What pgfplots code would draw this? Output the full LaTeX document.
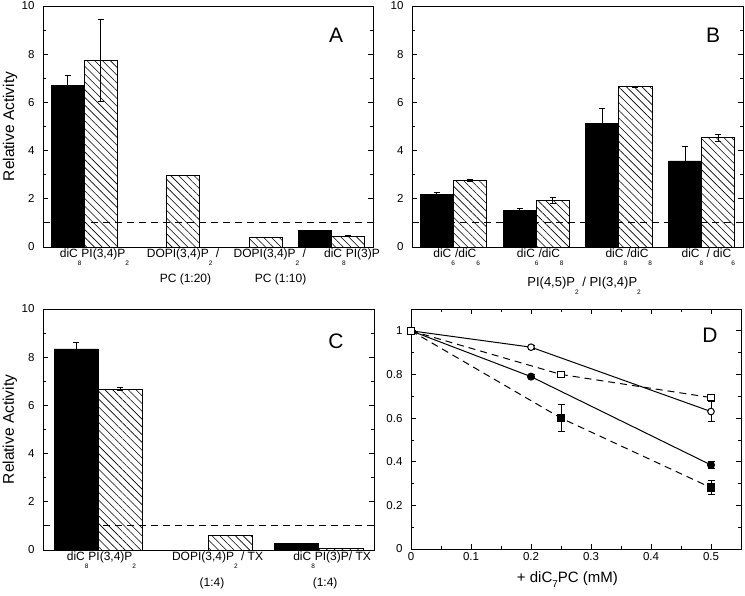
\documentclass[border=0pt]{standalone}
\usepackage{fontspec}
\setmainfont{Liberation Sans}
\usepackage{pgfplots}
\pgfplotsset{compat=1.18}
\usetikzlibrary{patterns.meta}
\newcommand{\lsub}[1]{\raisebox{-8pt}{\fontsize{6.5}{6.5}\selectfont #1}}
\newcommand{\dsub}[1]{\raisebox{-5pt}{\fontsize{10}{10}\selectfont #1}}

\tikzset{letter/.style={font=\fontsize{21}{21}\selectfont}}
\pgfplotsset{
  panel/.style={
    scale only axis,
    axis line style={line width=0.9pt},
    tick style={black, line width=0.8pt},
    tick align=inside,
    major tick length=5pt, minor tick length=3pt,
    /pgf/number format/assume math mode=true,
    yticklabel style={font=\fontsize{11.5}{13}\selectfont, xshift=-5pt},
    label style={font=\fontsize{15.5}{17}\selectfont},
    clip=false,
  },
  barpanel/.style={
    panel,
    ymin=0, ymax=10, ytick={0,2,4,6,8,10}, minor ytick={1,3,5,7,9},
    xtick style={draw=none},
    xticklabel style={font=\fontsize{12}{14}\selectfont, inner sep=0pt, yshift=-2pt},
  },
  blackbar/.style={ybar, bar width=0.4, bar shift=0pt, fill=black, draw=black, line width=0.8pt,
    error bars/.cd, y dir=both, y explicit,
    error bar style={black, line width=0.8pt},
    error mark options={black, rotate=90, mark size=3pt, line width=0.8pt}},
  hatchbar/.style={ybar, bar width=0.4, bar shift=0pt, fill=white, draw=black, line width=0.8pt,
    postaction={pattern={Lines[angle=-45, distance=5.5pt, line width=0.6pt]}},
    error bars/.cd, y dir=both, y explicit,
    error bar style={black, line width=0.8pt},
    error mark options={black, rotate=90, mark size=3pt, line width=0.8pt}},
  refline/.style={black, line width=0.8pt, dash pattern=on 7pt off 5pt},
}

\begin{document}
\begin{tikzpicture}
\path[use as bounding box] (0pt,0pt) rectangle (745pt,596pt);

% Panel A
\begin{axis}[barpanel, at={(43pt,349pt)}, anchor=south west, width=330pt, height=241pt,
  xmin=0, xmax=4,
  xtick={0.624,1.697,2.75,3.745},
  xticklabels={{diC\lsub{8}PI(3,4)P\lsub{2}},{DOPI(3,4)P\lsub{2} /},{DOPI(3,4)P\lsub{2} /},{diC\lsub{8}PI(3)P}},
  extra x ticks={1.727,2.88},
  extra x tick labels={{PC (1:20)},{PC (1:10)}},
  extra x tick style={major tick length=0pt, xticklabel style={yshift=-25pt}},
  ylabel={Relative Activity},
  ylabel style={at={(axis description cs:-0.1,0.5)}, anchor=center, rotate=0},
]
\addplot[blackbar] coordinates {(0.3,6.72) +- (0,0.38) (3.3,0.70) +- (0,0)};
\addplot[hatchbar] coordinates {(0.7,7.75) +- (0,1.7) (1.7,2.97) +- (0,0) (2.7,0.40) +- (0,0) (3.7,0.45) +- (0,0.02)};
\addplot[refline] coordinates {(0,1) (4,1)};
\node[letter] at (rel axis cs:0.888,0.88) {A};
\end{axis}

% Panel B
\begin{axis}[barpanel, at={(412pt,349pt)}, anchor=south west, width=331pt, height=241pt,
  xmin=0, xmax=4,
  xtick={0.54,1.55,2.62,3.58},
  xticklabels={{diC\lsub{6}/diC\lsub{6}},{diC\lsub{6}/diC\lsub{8}},{diC\lsub{8}/diC\lsub{8}},{diC\lsub{8} / diC\lsub{6}}},
  xlabel={PI(4,5)P\lsub{2} / PI(3,4)P\lsub{2}},
  xlabel style={at={(axis description cs:0.52,0)}, anchor=north, inner sep=0pt, yshift=-30pt, font=\fontsize{13}{15}\selectfont},
]
\addplot[blackbar] coordinates {(0.3,2.19) +- (0,0.09) (1.3,1.50) +- (0,0.10) (2.3,5.13) +- (0,0.60) (3.3,3.57) +- (0,0.60)};
\addplot[hatchbar] coordinates {(0.7,2.77) +- (0,0.05) (1.7,1.94) +- (0,0.13) (2.7,6.65) +- (0,0.02) (3.7,4.54) +- (0,0.14)};
\addplot[refline] coordinates {(0,1) (4,1)};
\node[letter] at (rel axis cs:0.91,0.88) {B};
\end{axis}

% Panel C
\begin{axis}[barpanel, at={(43pt,46pt)}, anchor=south west, width=331pt, height=241pt,
  xmin=0, xmax=3,
  xtick={0.53,1.582,2.62},
  xticklabels={{diC\lsub{8}PI(3,4)P\lsub{2}},{DOPI(3,4)P\lsub{2} / TX},{diC\lsub{8}PI(3)P/ TX}},
  extra x ticks={1.532,2.557},
  extra x tick labels={{(1:4)},{(1:4)}},
  extra x tick style={major tick length=0pt, xticklabel style={yshift=-26pt}},
  ylabel={Relative Activity},
  ylabel style={at={(axis description cs:-0.1,0.5)}, anchor=center, rotate=0},
]
\addplot[blackbar] coordinates {(0.3,8.34) +- (0,0.28) (2.3,0.28) +- (0,0)};
\addplot[hatchbar] coordinates {(0.7,6.68) +- (0,0.07) (1.7,0.62) +- (0,0) (2.7,0.06) +- (0,0)};
\addplot[refline] coordinates {(0,1) (3,1)};
\node[letter] at (rel axis cs:0.885,0.865) {C};
\end{axis}

% Panel D
\begin{axis}[panel, at={(411pt,47pt)}, anchor=south west, width=330pt, height=240pt,
  xmin=0, xmax=0.55, ymin=0, ymax=1.1,
  xtick={0,0.1,0.2,0.3,0.4,0.5}, minor xtick={0.05,0.15,0.25,0.35,0.45},
  ytick={0,0.2,0.4,0.6,0.8,1}, minor ytick={0.1,0.3,0.5,0.7,0.9},
  xticklabel style={font=\fontsize{11.5}{13}\selectfont},
  xlabel={+ diC\dsub{7}PC (mM)},
  xlabel style={at={(axis description cs:0.474,0)}, anchor=north, inner sep=0pt, yshift=-22pt, font=\fontsize{15}{17}\selectfont},
  error bars/y dir=both, error bars/y explicit,
  error bars/error bar style={black, line width=0.8pt, solid},
  error bars/error mark options={black, rotate=90, mark size=3.5pt, line width=0.8pt, solid},
]
\addplot[black, line width=1pt, mark=*, mark size=3.5pt, mark options={solid, fill=black}]
  coordinates {(0,1) +- (0,0) (0.2,0.79) +- (0,0.01) (0.5,0.385) +- (0,0.015)};
\addplot[black, line width=1pt, dash pattern=on 7pt off 5pt, mark=square*, mark size=3.8pt, mark options={solid, fill=black}]
  coordinates {(0,1) +- (0,0) (0.25,0.60) +- (0,0.063) (0.5,0.281) +- (0,0.032)};
\addplot[black, line width=1pt, mark=*, mark size=3.3pt, mark options={solid, fill=white}]
  coordinates {(0,1) +- (0,0) (0.2,0.925) +- (0,0.01) (0.5,0.63) +- (0,0.045)};
\addplot[black, line width=1pt, dash pattern=on 7pt off 5pt, mark=square*, mark size=3.2pt, mark options={solid, fill=white}]
  coordinates {(0,1) +- (0,0) (0.25,0.80) +- (0,0.015) (0.5,0.694) +- (0,0.01)};
\node[letter] at (rel axis cs:0.906,0.89) {D};
\end{axis}
\end{tikzpicture}
\end{document}
